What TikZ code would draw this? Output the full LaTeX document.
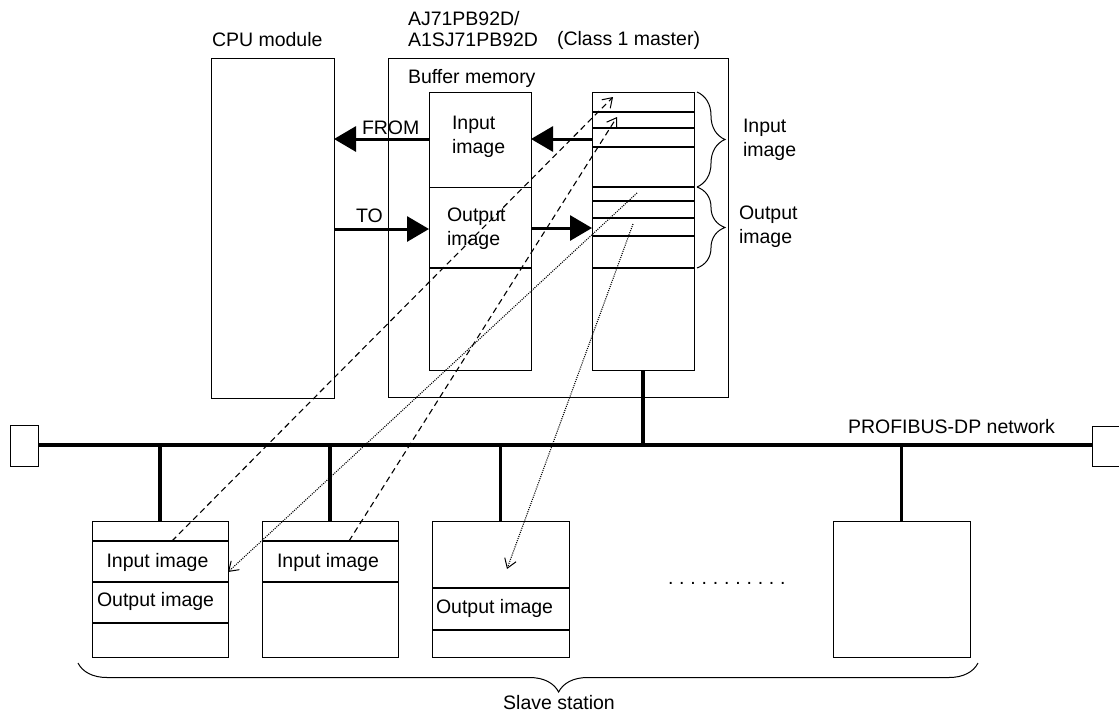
\documentclass[tikz,border=0pt]{standalone}
\usepackage{fontspec}
\setmainfont{Liberation Sans}
\usetikzlibrary{arrows.meta,decorations.pathreplacing}
\begin{document}
\begin{tikzpicture}[x=1pt,y=-1pt,
  every node/.style={font=\fontsize{19.5}{24}\selectfont, inner sep=0pt, outer sep=0pt},
  box/.style={draw, line width=1pt, anchor=north west},
  rowline/.style={line width=1.8pt},
  thinrow/.style={line width=1pt},
  bus/.style={line width=4pt},
  drop/.style={line width=3.5pt},
  bigarrow/.style={line width=3pt, -{Triangle[length=22pt,width=25pt]}},
  dasharrow/.style={line width=1.1pt, dash pattern=on 6pt off 4pt, -{Straight Barb[length=9pt,width=12pt,line width=1pt]}},
  dotarrow/.style={line width=1.1pt, dash pattern=on 1pt off 1.2pt, -{Straight Barb[length=9pt,width=12pt,line width=1pt]}},
  bracedeco/.style={decorate, line width=1pt, decoration={brace, amplitude=#1}},
  lbl/.style={anchor=base west},
  clbl/.style={anchor=base},
  mlbl/.style={anchor=north west, align=left}
]
\useasboundingbox (0,0) rectangle (1119,713);

% CPU module
\node[box, minimum width=123pt, minimum height=340pt] (cpu) at (211,58) {};
\node[lbl] (cputxt) at (212,46) {CPU module};

% Master module
\node[box, minimum width=340pt, minimum height=339pt] (master) at (388,58) {};
\node[lbl] (mname1) at (408,25) {AJ71PB92D/};
\node[lbl] (mname2) at (408,46.5) {A1SJ71PB92D};
\node[lbl] (mclass) at (557,45) {(Class 1 master)};
\node[lbl] (buf) at (408,83) {Buffer memory};

% Buffer memory left column
\node[box, minimum width=102pt, minimum height=278pt] (lc) at (429,92) {};
\draw[thinrow] (lc.west |- 0,187) -- (lc.east |- 0,187);
\draw[rowline] (lc.west |- 0,268) -- (lc.east |- 0,268);
\node[mlbl] (lcin) at (452,116) {Input\\image};
\node[mlbl] (lcout) at (447,207.5) {Output\\image};

% Buffer memory right column
\node[box, minimum width=102pt, minimum height=278pt] (rc) at (592,92) {};
\foreach \yy in {112,128,147,187,201,218,236,268}
  \draw[rowline] (rc.west |- 0,\yy) -- (rc.east |- 0,\yy);

% braces on the right column
\draw[bracedeco=28pt] (697,92) -- (697,187);
\draw[bracedeco=28pt] (697,187) -- (697,268);
\node[mlbl] (rin) at (743,119) {Input\\image};
\node[mlbl] (rout) at (739,205.5) {Output\\image};

% FROM / TO
\draw[bigarrow] (rc.west |- 0,139) -- (lc.east |- 0,139);
\draw[bigarrow] (lc.west |- 0,139) -- (cpu.east |- 0,139);
\draw[bigarrow] (cpu.east |- 0,229) -- (lc.west |- 0,229);
\draw[bigarrow] (lc.east |- 0,228) -- (rc.west |- 0,228);
\node[lbl] (from) at (362,134) {FROM};
\node[lbl] (to) at (356,222) {TO};

% network
\node[box, minimum width=28pt, minimum height=41pt] (termL) at (10,425) {};
\node[box, minimum width=40pt, minimum height=40pt] (termR) at (1092,426) {};
\draw[bus] (termL.east |- 0,445) -- (termR.west |- 0,445);
\coordinate (busM) at (643,445);
\draw[drop] (rc.south -| busM) -- (busM);
\node[lbl] (net) at (848,433) {PROFIBUS-DP network};

% slave stations
\node[box, minimum width=136pt, minimum height=136pt] (s1) at (92,521) {};
\node[box, minimum width=136pt, minimum height=136pt] (s2) at (262,521) {};
\node[box, minimum width=137pt, minimum height=136pt] (s3) at (432,521) {};
\node[box, minimum width=137pt, minimum height=136pt] (s4) at (833,521) {};
\foreach \s in {s1,s2,s3,s4}
  \draw[drop] (\s.north) -- (\s.north |- 0,445);

\draw[rowline] (s1.west |- 0,541) -- (s1.east |- 0,541);
\draw[rowline] (s1.west |- 0,582) -- (s1.east |- 0,582);
\draw[rowline] (s1.west |- 0,623) -- (s1.east |- 0,623);
\draw[rowline] (s2.west |- 0,541) -- (s2.east |- 0,541);
\draw[rowline] (s2.west |- 0,582) -- (s2.east |- 0,582);
\draw[rowline] (s3.west |- 0,588) -- (s3.east |- 0,588);
\draw[rowline] (s3.west |- 0,630) -- (s3.east |- 0,630);

\node[clbl] (s1in) at (157.5,567) {Input image};
\node[lbl] (s1out) at (97,606) {Output image};
\node[clbl] (s2in) at (328,567) {Input image};
\node[lbl] (s3out) at (436,613) {Output image};
\node[lbl] (dots) at (668,584) {.\hspace{5.8pt}.\hspace{5.8pt}.\hspace{5.8pt}.\hspace{5.8pt}.\hspace{5.8pt}.\hspace{5.8pt}.\hspace{5.8pt}.\hspace{5.8pt}.\hspace{5.8pt}.\hspace{5.8pt}.};

% data flow arrows
\coordinate (a1s) at (172,541);
\coordinate (a1e) at (613,97);
\coordinate (a2s) at (349,541);
\coordinate (a2e) at (617,117);
\coordinate (b1s) at (637,193);
\coordinate (b1e) at (228,572);
\coordinate (b2s) at (633,224);
\coordinate (b2e) at (507,569);
\draw[dasharrow] (a1s) -- (a1e);
\draw[dasharrow] (a2s) -- (a2e);
\draw[dotarrow] (b1s) -- (b1e);
\draw[dotarrow] (b2s) -- (b2e);

% slave station brace
\draw[decorate, line width=1pt, decoration={brace, amplitude=29pt, aspect=0.466}] (978,663) -- (78,663);
\node[clbl] (slv) at (559,709) {Slave station};
\end{tikzpicture}
\end{document}
